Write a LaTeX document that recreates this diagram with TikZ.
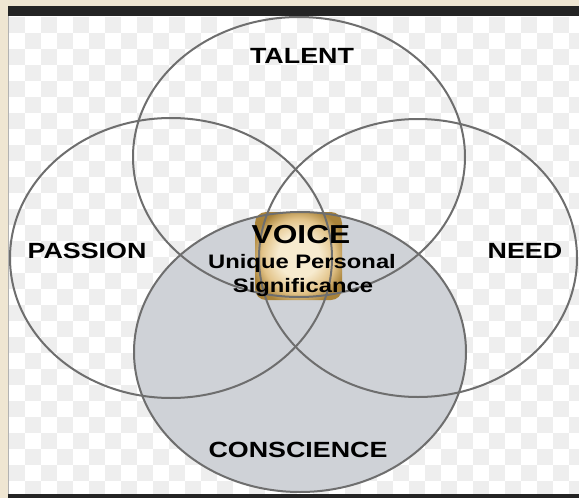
\documentclass[tikz,border=0pt]{standalone}
\usepackage{fontspec}
\setmainfont{Liberation Sans}
\usepackage{graphicx}
\definecolor{beige}{HTML}{EFE6D2}
\definecolor{darkbar}{HTML}{242424}
\definecolor{checkgray}{HTML}{EEEEEE}
\definecolor{conscfill}{HTML}{CFD2D7}
\definecolor{ringline}{HTML}{6E6E6E}
\definecolor{goldin}{HTML}{F7EBCF}
\definecolor{goldmid}{HTML}{E3C48A}
\definecolor{goldout}{HTML}{A9833A}
\pgfdeclareradialshading{goldbox}{\pgfpoint{0bp}{0bp}}{%
  color(0bp)=(goldin); color(12bp)=(goldin); color(21bp)=(goldmid);
  color(28bp)=(goldout); color(50bp)=(goldout)}
\tikzset{
  ring/.style={draw=ringline, line width=2pt},
  biglabel/.style={anchor=base, inner sep=0pt, font=\fontsize{22}{24}\selectfont\bfseries},
  voicelabel/.style={anchor=base, inner sep=0pt, font=\fontsize{26}{28}\selectfont\bfseries},
  sublabel/.style={anchor=base, inner sep=0pt, font=\fontsize{19.5}{22}\selectfont\bfseries}
}
\newcommand{\wide}[1]{\scalebox{1.22}[1]{#1}}
\begin{document}
\begin{tikzpicture}[x=1pt,y=-1pt]
\useasboundingbox (0,0) rectangle (579,498);
% background
\fill[white] (0,0) rectangle (579,498);
\begin{scope}
\clip (8,16) rectangle (579,495);
\foreach \i in {0,...,36}{
  \foreach \j in {0,...,30}{
    \pgfmathtruncatemacro\cbpar{mod(\i+\j,2)}
    \ifnum\cbpar=0
      \fill[checkgray] (9+16*\i,17+16*\j) rectangle (25+16*\i,33+16*\j);
    \fi
  }
}
\end{scope}
% conscience fill
\fill[conscfill] (300,352) ellipse [x radius=166pt, y radius=140pt];
% gold box
\shade[rounded corners=11pt, shading=goldbox] (255,212) rectangle (342,300);
% rings
\draw[ring] (299,157) ellipse [x radius=166pt, y radius=140pt];
\draw[ring] (171,258) ellipse [x radius=161pt, y radius=140pt];
\draw[ring] (418,258) ellipse [x radius=159pt, y radius=139pt];
\draw[ring] (300,352) ellipse [x radius=166pt, y radius=140pt];
% labels
\node[biglabel] (talent) at (302,63) {\wide{TALENT}};
\node[biglabel] (passion) at (87,258) {\wide{PASSION}};
\node[biglabel] (need) at (525,258) {\wide{NEED}};
\node[biglabel] (conscience) at (298,457) {\wide{CONSCIENCE}};
\node[voicelabel] (voice) at (301,243) {\wide{VOICE}};
\node[sublabel] (unique) at (302,268) {\wide{Unique Personal}};
\node[sublabel] (signif) at (303,292) {\wide{Significance}};
% frame
\fill[beige] (0,0) rectangle (579,6);
\fill[beige] (0,0) rectangle (8,498);
\fill[darkbar] (8,6) rectangle (579,16);
\fill[darkbar] (8,494) rectangle (579,498);
\draw[gray!60, line width=0.8pt] (8.4,16) -- (8.4,494);
\end{tikzpicture}
\end{document}
